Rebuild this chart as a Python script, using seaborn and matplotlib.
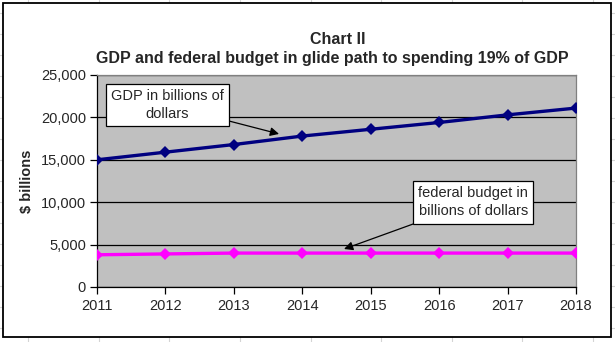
import matplotlib
matplotlib.use("Agg")
import matplotlib.pyplot as plt
from matplotlib.patches import Rectangle
from matplotlib.lines import Line2D
import seaborn as sns
import pandas as pd

years = [2011, 2012, 2013, 2014, 2015, 2016, 2017, 2018]
gdp = [15000, 15900, 16800, 17800, 18600, 19400, 20300, 21100]
budget = [3800, 3900, 4000, 4000, 4000, 4000, 4000, 4000]
series_names = ["GDP", "Federal budget"]
y_ticks = [0, 5000, 10000, 15000, 20000, 25000]

df = pd.DataFrame({
    "year": years * 2,
    "value": gdp + budget,
    "series": [series_names[0]] * len(years) + [series_names[1]] * len(years),
})

sns.set_theme(style="white")
plt.rcParams["font.family"] = ["Liberation Sans", "DejaVu Sans"]

W, H = 615, 342
fig = plt.figure(figsize=(W / 100, H / 100), dpi=100)
fig.patch.set_facecolor("white")

# spreadsheet cell grid behind the chart object
grid_c = "#d4d4d4"
for gx in [28, 99, 169, 240, 311, 381, 452, 522, 593]:
    fig.add_artist(Line2D([gx / W, gx / W], [0, 1], color=grid_c, lw=0.8, zorder=0))
for gy in range(13, H, 21):
    fig.add_artist(Line2D([0, 1], [1 - gy / H, 1 - gy / H], color=grid_c, lw=0.8, zorder=0))

# chart object frame
fig.add_artist(Rectangle((3 / W, 1 - 337 / H), 608 / W, 334 / H, transform=fig.transFigure,
                         facecolor="white", edgecolor="black", lw=1.3, zorder=1))

ax = fig.add_axes([97 / W, 1 - 287 / H, (576 - 97) / W, (287 - 75) / H], zorder=2)
ax.set_facecolor("#c0c0c0")

sns.lineplot(data=df, x="year", y="value", hue="series",
             palette={series_names[0]: "#000080", series_names[1]: "#ff00ff"},
             marker="D", markersize=6, markeredgewidth=0, linewidth=2.4,
             legend=False, ax=ax, zorder=3)

ax.set_xlim(years[0], years[-1])
ax.set_ylim(y_ticks[0], y_ticks[-1])
ax.set_xticks(years)
ax.set_yticks(y_ticks)
ax.set_yticklabels([f"{v:,}" for v in y_ticks], fontsize=10.5)
ax.set_xticklabels([str(y) for y in years], fontsize=10.5)
ax.yaxis.grid(True, color="black", lw=0.9)
ax.set_axisbelow(True)
ax.tick_params(axis="both", direction="out", length=5, width=0.9, color="black",
               left=True, bottom=True, pad=3)
ax.tick_params(axis="x", pad=4)
for side in ["top", "right"]:
    ax.spines[side].set_color("#808080")
    ax.spines[side].set_linewidth(0.9)
for side in ["left", "bottom"]:
    ax.spines[side].set_color("black")
    ax.spines[side].set_linewidth(0.9)

ax.set_xlabel("")
ax.set_ylabel("$ billions", fontsize=10.5, fontweight="bold", labelpad=5)

fig.text(338 / W, 1 - 40 / H, "Chart II", ha="center", va="center",
         fontsize=11.5, fontweight="bold")
fig.text(332 / W, 1 - 58 / H, "GDP and federal budget in glide path to spending 19% of GDP",
         ha="center", va="center", fontsize=11.5, fontweight="bold")

box = dict(boxstyle="square,pad=0.35", facecolor="white", edgecolor="black", lw=0.9)
arrow = dict(arrowstyle="-|>", color="black", lw=0.9, mutation_scale=13, shrinkA=0, shrinkB=0)
ax.annotate("GDP in billions of\ndollars", xy=(2013.66, 18050), xytext=(2012.03, 21450),
            ha="center", va="center", fontsize=10.5, bbox=box, arrowprops=arrow,
            linespacing=1.4, zorder=5)
ax.annotate("federal budget in\nbillions of dollars", xy=(2014.61, 4480), xytext=(2016.5, 10000),
            ha="center", va="center", fontsize=10.5, bbox=box, arrowprops=arrow,
            linespacing=1.4, zorder=5)

fig.savefig("out.png", dpi=100)
